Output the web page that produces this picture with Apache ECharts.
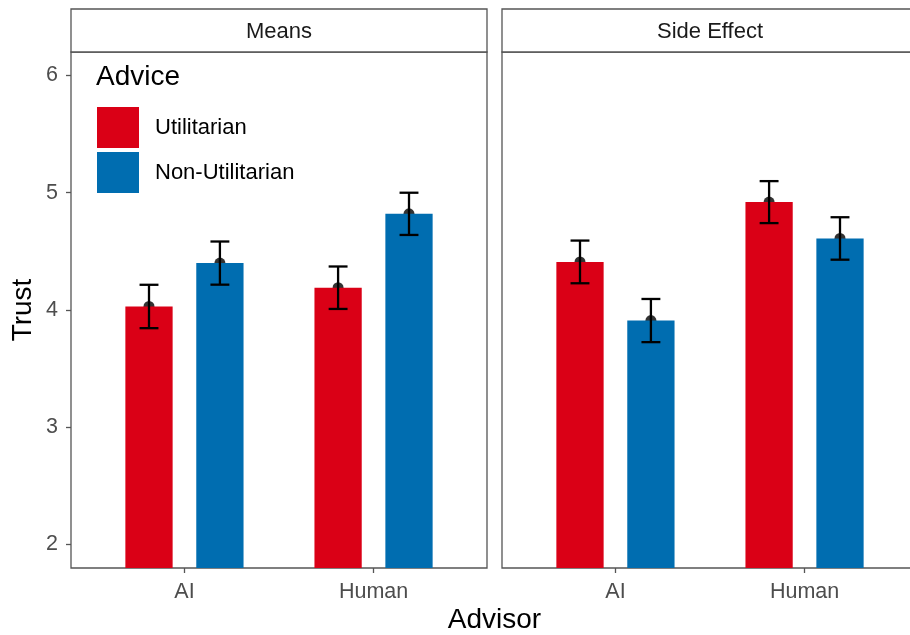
<!DOCTYPE html>
<html>
<head>
<meta charset="utf-8">
<script src="https://cdn.jsdelivr.net/npm/echarts@6/dist/echarts.min.js"></script>
<style>html,body{margin:0;padding:0;background:#fff}#chart{width:910px;height:635px}</style>
</head>
<body>
<div id="chart"></div>
<script>
// ---- data ----
const advisors = ['AI', 'Human'];
const facets = ['Means', 'Side Effect'];
const adviceLevels = ['Utilitarian', 'Non-Utilitarian'];
const yTicks = [2, 3, 4, 5, 6];
// mean trust per advisor (AI, Human)
const meansUtil = [4.03, 4.19];
const meansNonUtil = [4.40, 4.82];
const sideUtil = [4.41, 4.92];
const sideNonUtil = [3.91, 4.61];
// error bar half-widths
const meansUtilErr = [0.185, 0.181];
const meansNonUtilErr = [0.184, 0.180];
const sideUtilErr = [0.182, 0.179];
const sideNonUtilErr = [0.184, 0.181];

const COLORS = ['#DA0016', '#006DB0'];
const FONT = 'Liberation Sans, Arial, sans-serif';
const Y_MIN = 1.8, Y_MAX = 6.2;
const BAR_W = 0.25, DODGE = 0.1875, CAP_W = 0.1;

const facetData = [
  [[meansUtil, meansUtilErr], [meansNonUtil, meansNonUtilErr]],
  [[sideUtil, sideUtilErr], [sideNonUtil, sideNonUtilErr]]
];

const chart = echarts.init(document.getElementById('chart'), null, {renderer: 'canvas'});

function barRender(params, api) {
  const x = api.value(0), y = api.value(1);
  const p0 = api.coord([x - BAR_W / 2, y]);
  const p1 = api.coord([x + BAR_W / 2, Y_MIN]);
  return {
    type: 'rect',
    shape: {x: p0[0], y: p0[1], width: p1[0] - p0[0], height: p1[1] - p0[1]},
    style: {fill: api.visual('color')}
  };
}
function errRender(params, api) {
  const x = api.value(0), lo = api.value(1), hi = api.value(2);
  const top = api.coord([x, hi]), bot = api.coord([x, lo]);
  const cl = api.coord([x - CAP_W / 2, hi])[0], cr = api.coord([x + CAP_W / 2, hi])[0];
  const st = {stroke: '#000', lineWidth: 2.3};
  return {
    type: 'group',
    children: [
      {type: 'line', shape: {x1: top[0], y1: top[1], x2: bot[0], y2: bot[1]}, style: st},
      {type: 'line', shape: {x1: cl, y1: top[1], x2: cr, y2: top[1]}, style: st},
      {type: 'line', shape: {x1: cl, y1: bot[1], x2: cr, y2: bot[1]}, style: st}
    ]
  };
}

const series = [];
facets.forEach((f, fi) => {
  adviceLevels.forEach((lvl, si) => {
    const [vals, errs] = facetData[fi][si];
    const off = si === 0 ? -DODGE : DODGE;
    const pts = vals.map((v, i) => [i + 1 + off, v]);
    series.push({
      type: 'scatter', name: 'pt' + fi + si, xAxisIndex: fi, yAxisIndex: fi,
      data: pts, symbol: 'circle', symbolSize: 11, itemStyle: {color: '#000'},
      z: 1, silent: true
    });
    series.push({
      type: 'custom', name: lvl, xAxisIndex: fi, yAxisIndex: fi,
      itemStyle: {color: COLORS[si]}, data: pts, renderItem: barRender, z: 2, clip: true
    });
    series.push({
      type: 'custom', name: 'err' + fi + si, xAxisIndex: fi, yAxisIndex: fi,
      data: vals.map((v, i) => [i + 1 + off, v - errs[i], v + errs[i]]),
      renderItem: errRender, z: 3
    });
  });
});

const gridBase = {top: 52, height: 516, width: 416, show: true, borderColor: '#555', borderWidth: 1.3,
  containLabel: false, outerBoundsMode: 'none'};

function xAxis(gi) {
  return {
    type: 'value', gridIndex: gi, min: 0.4, max: 2.6,
    axisLine: {show: false},
    splitLine: {show: false},
    axisTick: {show: true, length: 5, lineStyle: {color: '#555', width: 1.3}, customValues: [1, 2]},
    axisLabel: {customValues: [1, 2], formatter: v => advisors[Math.round(v) - 1] || '', color: '#4d4d4d', fontSize: 21.5, fontFamily: FONT, margin: 13}
  };
}
function yAxis(gi) {
  return {
    type: 'value', gridIndex: gi, min: Y_MIN, max: Y_MAX,
    axisLine: {show: false},
    splitLine: {show: false},
    axisTick: {show: gi === 0, length: 5, lineStyle: {color: '#555', width: 1.3}, customValues: yTicks},
    axisLabel: {show: gi === 0, customValues: yTicks, color: '#4d4d4d', fontSize: 21.5, fontFamily: FONT, margin: 13},
    name: gi === 0 ? 'Trust' : '', nameLocation: 'middle', nameGap: 34,
    nameTextStyle: {fontSize: 28, color: '#000', fontFamily: FONT}
  };
}

function strip(gi, label) {
  const x = gi === 0 ? 71 : 502;
  return [
    {type: 'rect', shape: {x: x, y: 9, width: 416, height: 43}, style: {fill: '#fff', stroke: '#555', lineWidth: 1.3}, z: 10},
    {type: 'text', x: x + 208, y: 31.5, style: {text: label, font: '22px ' + FONT, fill: '#1a1a1a', align: 'center', verticalAlign: 'middle'}, z: 11}
  ];
}

chart.setOption({
  animation: false,
  backgroundColor: '#fff',
  grid: [Object.assign({left: 71}, gridBase), Object.assign({left: 502}, gridBase)],
  xAxis: [xAxis(0), xAxis(1)],
  yAxis: [yAxis(0), yAxis(1)],
  legend: {
    data: adviceLevels, orient: 'vertical', left: 97, top: 107, padding: 0,
    itemWidth: 42, itemHeight: 41, itemGap: 4, icon: 'rect',
    textStyle: {fontSize: 22, color: '#000', fontFamily: FONT, padding: [0, 0, 0, 11]},
    selectedMode: false
  },
  graphic: [
    ...strip(0, facets[0]), ...strip(1, facets[1]),
    {type: 'text', x: 96, y: 77, style: {text: 'Advice', font: '28px ' + FONT, fill: '#000', align: 'left', verticalAlign: 'middle'}, z: 11},
    {type: 'text', x: 494.5, y: 620, style: {text: 'Advisor', font: '28px ' + FONT, fill: '#000', align: 'center', verticalAlign: 'middle'}, z: 11}
  ],
  series: series
});
</script>
</body>
</html>
